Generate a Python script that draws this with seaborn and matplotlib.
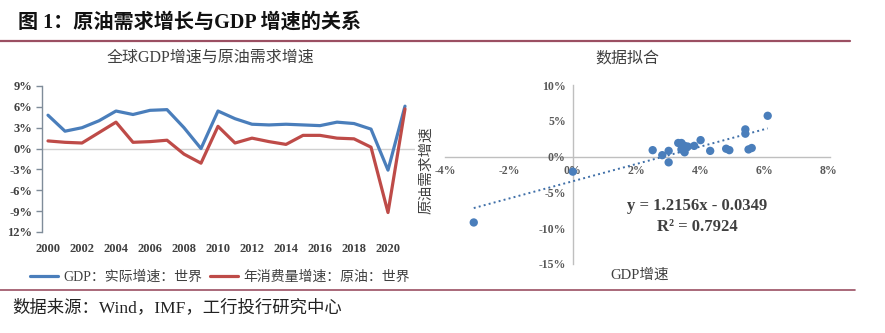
import numpy as np
import pandas as pd
import matplotlib
matplotlib.use("Agg")
import matplotlib.pyplot as plt
from matplotlib.lines import Line2D
import seaborn as sns

years = list(range(2000, 2022))
gdp_growth = [4.8, 2.5, 3.0, 4.0, 5.4, 4.9, 5.5, 5.6, 3.0, 0.0, 5.4, 4.3, 3.5, 3.4,
              3.5, 3.4, 3.3, 3.8, 3.6, 2.8, -3.1, 6.1]
oil_growth = [1.1, 0.9, 0.8, 2.3, 3.8, 0.9, 1.0, 1.2, -0.8, -2.1, 3.2, 0.8, 1.5, 1.0,
              0.6, 1.9, 1.9, 1.5, 1.4, 0.2, -9.2, 5.7]
left_yticks = [-12, -9, -6, -3, 0, 3, 6, 9]
left_ylabels = ["12%", "-9%", "-6%", "-3%", "0%", "3%", "6%", "9%"]
left_xticks = list(range(2000, 2021, 2))
right_xticks = [-4, -2, 0, 2, 4, 6, 8]
right_yticks = [-15, -10, -5, 0, 5, 10]
series_names = ["GDP：实际增速：世界", "年消费量增速：原油：世界"]
equation_text = "y = 1.2156x - 0.0349"
r2_text = "R² = 0.7924"

df = pd.DataFrame({"year": years, "gdp": gdp_growth, "oil": oil_growth})

sns.set_theme(style="white")
plt.rcParams["font.family"] = ["Liberation Serif", "Noto Sans CJK SC", "DejaVu Sans"]

W, H = 885, 333
fig = plt.figure(figsize=(W / 100, H / 100), dpi=100)

def fx(px):
    return px / W

def fy(py):
    return 1 - py / H

BLUE = "#4A7EBB"
RED = "#BE4B48"
TXT = "#404040"

# header
fig.text(fx(18), fy(23), "图 1：原油需求增长与GDP 增速的关系", fontsize=14.5, fontweight="bold",
         va="center", ha="left", color="#111111",
         family=["Liberation Serif", "Noto Sans CJK SC"])
fig.add_artist(Line2D([fx(0), fx(850)], [fy(41), fy(41)], color="#9B4F62", lw=1.6,
                      transform=fig.transFigure))
fig.add_artist(Line2D([fx(0), fx(855)], [fy(290), fy(290)], color="#9B4F62", lw=1.2,
                      transform=fig.transFigure))
fig.text(fx(12), fy(308), "数据来源：Wind，IMF，工行投行研究中心", fontsize=12.5,
         va="center", ha="left", color="#222222",
         family=["Liberation Serif", "Noto Sans CJK SC"])

# ---------- left chart ----------
axL = fig.add_axes([fx(42), fy(232), fx(415 - 42), (232 - 86) / H])
sns.lineplot(data=df, x="year", y="gdp", ax=axL, color=BLUE, lw=2.3, label=series_names[0])
sns.lineplot(data=df, x="year", y="oil", ax=axL, color=RED, lw=2.3, label=series_names[1])
axL.axhline(0, color="#D0D0D0", lw=1, zorder=0)
axL.set_xlim(2000 - 6 / 17, 2000 + (415 - 48) / 17)
axL.set_ylim(-12, 9)
axL.set_yticks(left_yticks)
axL.set_yticklabels(left_ylabels)
axL.set_xticks(left_xticks)
axL.set_xticklabels([str(y) for y in left_xticks])
for s in ["top", "right", "bottom"]:
    axL.spines[s].set_visible(False)
axL.spines["left"].set_color("#7F8C99")
axL.spines["left"].set_linewidth(1.0)
axL.tick_params(axis="y", which="major", left=True, length=4, width=1, color="#7F8C99",
                labelsize=9, labelcolor=TXT, pad=3)
axL.tick_params(axis="x", bottom=False, labelsize=9, labelcolor=TXT, pad=2)
for lab in axL.get_xticklabels() + axL.get_yticklabels():
    lab.set_fontweight("bold")
axL.set_xlabel("")
axL.set_ylabel("")
axL.legend(loc="center", bbox_to_anchor=(fx(220), fy(277)), bbox_transform=fig.transFigure,
           ncol=2, frameon=False, fontsize=10, handlelength=2.0, handletextpad=0.4,
           columnspacing=0.6, labelcolor=TXT)
fig.text(fx(210), fy(58), "全球GDP增速与原油需求增速", fontsize=11.5, ha="center", va="center",
         color=TXT, family=["Liberation Serif", "Noto Sans CJK SC"])

# ---------- right chart ----------
axR = fig.add_axes([fx(445), fy(264), fx(830 - 445), (264 - 85) / H])
sns.regplot(data=df, x="gdp", y="oil", ax=axR, ci=None, truncate=True,
            scatter_kws=dict(s=36, color=BLUE, edgecolor="none", alpha=1, zorder=3),
            line_kws=dict(ls=":", lw=1.4, color="#3F6FA8", zorder=2))
axR.set_xlim(-4, 8.05)
axR.set_ylim(-15, 10)
axR.set_xticks(right_xticks)
axR.set_xticklabels([f"{v}%" for v in right_xticks])
axR.set_yticks(right_yticks)
axR.set_yticklabels([f"{v}%" for v in right_yticks])
axR.spines["top"].set_visible(False)
axR.spines["right"].set_visible(False)
axR.spines["bottom"].set_position(("data", 0))
axR.spines["left"].set_position(("data", 0))
for s in ["bottom", "left"]:
    axR.spines[s].set_color("#BFBFBF")
    axR.spines[s].set_linewidth(1.0)
    axR.spines[s].set_zorder(0)
axR.tick_params(axis="both", length=0, labelsize=8.5, labelcolor="#595959")
axR.tick_params(axis="x", pad=6)
axR.tick_params(axis="y", pad=5)
for lab in axR.get_xticklabels() + axR.get_yticklabels():
    lab.set_fontweight("bold")
axR.set_xlabel("")
axR.set_ylabel("")
fig.text(fx(627), fy(58), "数据拟合", fontsize=11.5, ha="center", va="center", color=TXT,
         family=["Noto Sans CJK SC"])
fig.text(fx(426), fy(170), "原油需求增速", fontsize=10.5, ha="center", va="center",
         rotation=90, color=TXT, family=["Noto Sans CJK SC"])
fig.text(fx(640), fy(275), "GDP增速", fontsize=10.5, ha="center", va="center", color=TXT,
         family=["Liberation Serif", "Noto Sans CJK SC"])
fig.text(fx(697), fy(206), equation_text, fontsize=12, fontweight="bold", ha="center",
         va="center", color=TXT, family=["Liberation Serif"])
fig.text(fx(697), fy(227), r2_text, fontsize=12, fontweight="bold", ha="center",
         va="center", color=TXT, family=["Liberation Serif"])

fig.savefig("out.png", dpi=100)
